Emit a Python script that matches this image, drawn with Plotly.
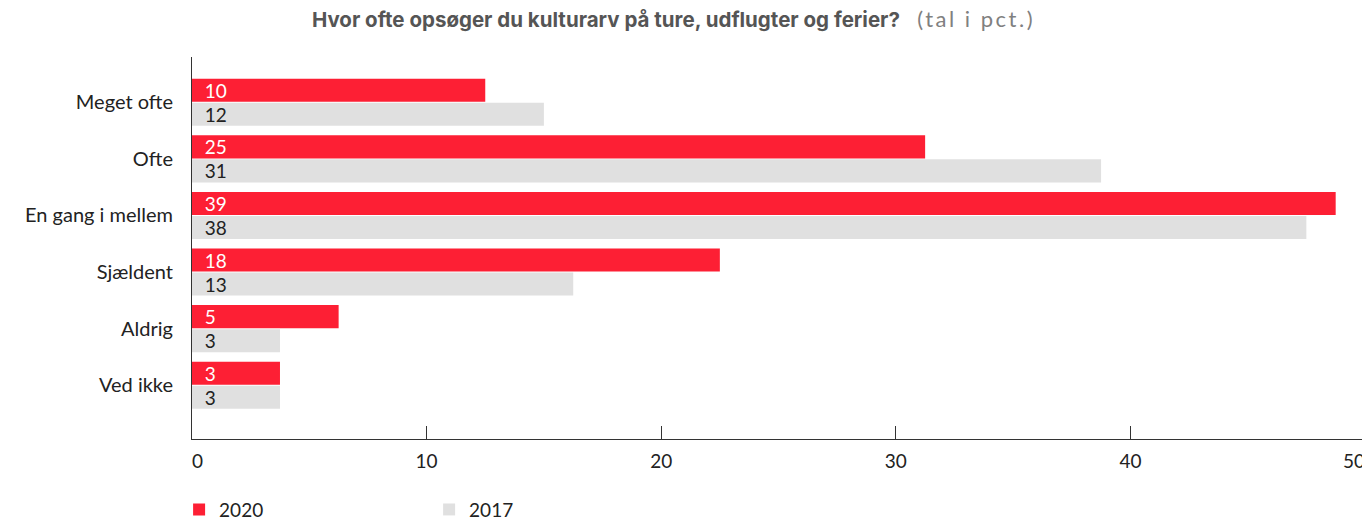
import plotly.graph_objects as go
import numpy as np

categories = ["Meget ofte", "Ofte", "En gang i mellem", "Sjældent", "Aldrig", "Ved ikke"]
values_2020 = [10, 25, 39, 18, 5, 3]
values_2017 = [12, 31, 38, 13, 3, 3]
tick_labels = ["0", "10", "20", "30", "40", "50"]
series_names = ["2020", "2017"]

FONT = "Lato, 'Noto Sans', sans-serif"
TITLE_FONT = "Inter, 'Noto Sans', sans-serif"
RED = "#fd1f34"
GREY = "#e0e0e0"
NB = "\u00a0"
HIDE = "<span style='color:rgba(0,0,0,0)'>{}</span>"

# edge tick labels nudged inward like the reference (first left-aligned, last right-aligned)
display_ticks = list(tick_labels)
display_ticks[0] = HIDE.format("0") + display_ticks[0]
display_ticks[-1] = display_ticks[-1] + HIDE.format("00")

fig = go.Figure()
for vals, name, col, tcol in [(values_2020, series_names[0], RED, "white"),
                              (values_2017, series_names[1], GREY, "#222222")]:
    fig.add_trace(go.Bar(
        y=categories, x=vals, orientation="h", name=name,
        marker=dict(color=col, line=dict(width=0)),
        text=[str(v) for v in vals], texttemplate=NB + NB + "%{text}",
        textposition="inside", insidetextanchor="start",
        textangle=0, constraintext="none",
        textfont=dict(color=tcol, size=19, family=FONT), cliponaxis=False,
        hoverinfo="x+y",
    ))

x_max = 40
W, H = 1362, 517
fig.update_layout(
    width=W, height=H,
    margin=dict(l=184, r=5, t=49, b=86, autoexpand=False),
    paper_bgcolor="white", plot_bgcolor="white",
    barmode="group", bargap=0.15, bargroupgap=0.04,
    font=dict(family=FONT, size=19, color="#222222"),
    title=dict(
        text="<b>Hvor ofte opsøger du kulturarv på ture, udflugter og ferier?</b>" + NB * 3
             + "<span style='color:#808080;font-family:Lato;font-size:22px;"
               "letter-spacing:2.5px'>(tal i pct.)</span>",
        x=0.4886, xanchor="center", y=0.977, yanchor="middle",
        font=dict(family=TITLE_FONT, size=20.5, color="#555555"),
    ),
    xaxis=dict(
        range=[0, x_max], tickvals=list(np.linspace(0, x_max, len(tick_labels))),
        ticktext=display_ticks, ticks="inside", ticklen=13, tickcolor="#333333",
        showline=True, linecolor="#333333", linewidth=1, showgrid=False, zeroline=False,
        tickfont=dict(size=19, color="#222222"), fixedrange=True, automargin=False,
        ticklabeloverflow="allow", ticklabelstandoff=5,
    ),
    yaxis=dict(
        autorange=False, range=[5.95, -0.8], showline=True, linecolor="#333333",
        linewidth=1, showgrid=False, ticks="", ticklabelstandoff=14,
        tickfont=dict(size=20, color="#222222"), fixedrange=True, automargin=False,
    ),
    legend=dict(
        orientation="h", x=-0.011, xanchor="left", xref="paper",
        y=-0.135, yanchor="top", yref="paper",
        entrywidth=205, font=dict(size=19, color="#222222"),
        itemsizing="constant", traceorder="normal",
    ),
)

fig.write_html("out.html")
